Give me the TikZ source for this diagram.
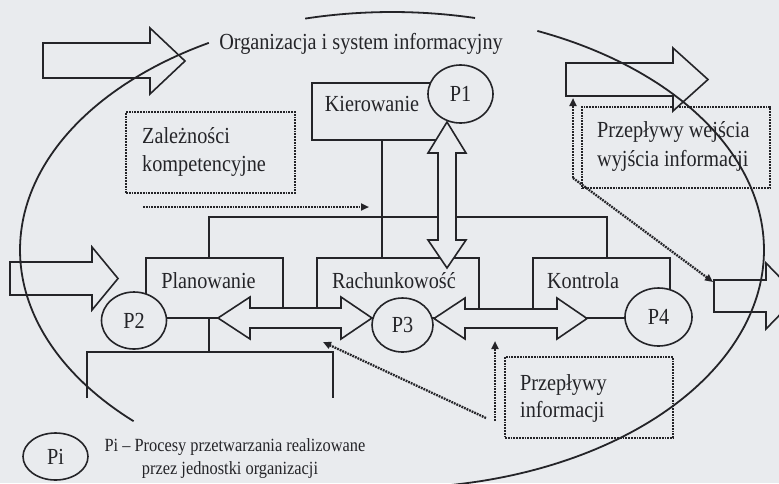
\documentclass[tikz,border=0pt]{standalone}
\usepackage{fontspec}
\setmainfont{Liberation Serif}
\newfontfamily\narrowserif{Liberation Serif}[FakeStretch=0.88]
\usetikzlibrary{arrows.meta,shapes.geometric,calc}

\definecolor{paper}{RGB}{233,235,238}
\definecolor{ink}{RGB}{36,36,40}

\tikzset{
  wire/.style={draw=ink, line width=1.6pt},
  unitbox/.style={rectangle, draw=ink, line width=1.6pt, inner sep=0pt},
  openbox/.style={rectangle, inner sep=0pt},
  proc/.style={ellipse, draw=ink, line width=1.6pt, fill=paper, inner sep=0pt,
               text=ink, font=\narrowserif\fontsize{23}{26}\selectfont},
  txt/.style={inner sep=0pt, text=ink, font=\narrowserif\fontsize{23}{26}\selectfont},
  smalltxt/.style={inner sep=0pt, text=ink, font=\narrowserif\fontsize{18.6}{21}\selectfont},
  notebox/.style={rectangle, draw=ink, line width=2.3pt, dash pattern=on 1.8pt off 1pt, inner sep=0pt},
  flow/.style={draw=ink, line width=2.3pt, dash pattern=on 1.8pt off 1pt,
               -{Triangle[length=8pt,width=7pt]}},
  blockarrow/.style={draw=ink, line width=1.6pt, fill=paper, line join=miter},
  orbit/.style={draw=ink, line width=1.8pt},
}

\begin{document}
\begin{tikzpicture}[x=1pt,y=-1pt]
  % canvas
  \fill[paper] (0,0) rectangle (779,483);
  \useasboundingbox (0,0) rectangle (779,483);
  \clip (0,0) rectangle (779,483);

  % ---- dotted notes ----
  \node[notebox, minimum width=169pt, minimum height=81pt] (zal) at (210.5,152.5) {};
  \node[txt, anchor=base west] (zal-t1) at (142,143) {Zależności};
  \node[txt, anchor=base west] (zal-t2) at (142,171) {kompetencyjne};

  \node[notebox, minimum width=188pt, minimum height=81pt] (wew) at (676,147.5) {};
  \node[txt, anchor=base west] (wew-t1) at (597,137) {Przepływy wejścia};
  \node[txt, anchor=base west] (wew-t2) at (597,166) {wyjścia informacji};

  \node[notebox, minimum width=168pt, minimum height=81pt] (inf) at (589,397.5) {};
  \node[txt, anchor=base west] (inf-t1) at (520,390) {Przepływy};
  \node[txt, anchor=base west] (inf-t2) at (520,417) {informacji};

  % ---- organisational units ----
  \node[openbox, minimum width=125pt, minimum height=57pt] (kier) at (374.5,111.5) {};
  \draw[wire] (kier.north east) -- (kier.north west) -- (kier.south west) -- (kier.south east);
  \node[txt, anchor=base] (kier-t) at (372,111) {Kierowanie};

  \node[unitbox, minimum width=137pt, minimum height=60pt] (plan) at (214.5,288) {};
  \node[unitbox, minimum width=162pt, minimum height=60pt] (rach) at (398,288) {};
  \node[unitbox, minimum width=137pt, minimum height=60pt] (kont) at (601.5,288) {};
  \node[txt, anchor=base] (plan-t) at (208.5,288) {Planowanie};
  \node[txt, anchor=base] (rach-t) at (394,288) {Rachunkowość};
  \node[txt, anchor=base] (kont-t) at (583,288) {Kontrola};

  % ---- hierarchy lines ----
  \coordinate (hub) at (382,217);
  \coordinate (pj) at (209,217);
  \coordinate (kj) at (607,217);
  \draw[wire] (kier.south -| hub) -- (rach.north -| hub);
  \draw[wire] (plan.north -| pj) -- (pj) -- (kj) -- (kont.north -| kj);

  \coordinate (sj) at (209,352);
  \coordinate (sl) at (87,352);
  \coordinate (sr) at (333,352);
  \coordinate (sl-end) at (87,398);
  \coordinate (sr-end) at (333,398);
  \draw[wire] (plan.south -| sj) -- (sj);
  \draw[wire] (sl-end) -- (sl) -- (sr) -- (sr-end);

  % ---- block arrows ----
  % inputs and outputs of the organisation
  \draw[blockarrow] (43,43) -- (150,43) -- (150,28) -- (185,61) -- (150,94) -- (150,78) -- (43,78) -- cycle;
  \draw[blockarrow] (10,262) -- (92,262) -- (92,247) -- (118,278.5) -- (92,310) -- (92,295) -- (10,295) -- cycle;
  \draw[blockarrow] (566,63) -- (673,63) -- (673,48) -- (708,79.5) -- (673,111) -- (673,96) -- (566,96) -- cycle;
  \draw[blockarrow] (714,280) -- (766,280) -- (766,263) -- (798,296) -- (766,329) -- (766,312) -- (714,312) -- cycle;
  % exchanges between the processes
  \draw[blockarrow] (447,122) -- (466,153) -- (456,153) -- (456,240) -- (466,240) -- (447,268)
                    -- (428,240) -- (438,240) -- (438,153) -- (428,153) -- cycle;
  \draw[blockarrow] (218,318) -- (250,297) -- (250,308) -- (341,308) -- (341,297) -- (372,318)
                    -- (341,339) -- (341,328) -- (250,328) -- (250,339) -- cycle;
  \draw[blockarrow] (434,318.5) -- (465,298) -- (465,309) -- (557,309) -- (557,298) -- (587,318.5)
                    -- (557,339) -- (557,328) -- (465,328) -- (465,339) -- cycle;

  % ---- processes ----
  \node[proc, minimum width=65pt, minimum height=58pt] (p1) at (460.5,94) {P1};
  \node[proc, minimum width=65pt, minimum height=57pt] (p2) at (134,320.5) {P2};
  \node[proc, minimum width=61pt, minimum height=54pt] (p3) at (402.5,325) {P3};
  \node[proc, minimum width=67pt, minimum height=58pt] (p4) at (658.5,317) {P4};

  % ---- dotted flows ----
  \coordinate (zf-s) at (143,207);
  \coordinate (zf-e) at (369,207);
  \draw[flow] (zf-s) -- (zf-e);

  \coordinate (wo) at (573,178);
  \coordinate (tr-foot) at (573,98);
  \coordinate (rt-foot) at (713,282);
  \draw[flow] (wo) -- (tr-foot);
  \draw[flow] (wo) -- (rt-foot);

  \coordinate (io1) at (495,421);
  \coordinate (io2) at (486,418);
  \coordinate (up-foot) at (495,341);
  \coordinate (left-foot) at (323,342);
  \draw[flow] (io1) -- (up-foot);
  \draw[flow] (io2) -- (left-foot);

  % ---- titles and legend ----
  \node[txt, anchor=base] (title) at (361,49) {Organizacja i system informacyjny};
  \node[proc, minimum width=65pt, minimum height=47pt] (pi) at (55.5,456.5) {Pi};
  \node[smalltxt, anchor=base] (leg1) at (235,451) {Pi – Procesy przetwarzania realizowane};
  \node[smalltxt, anchor=base] (leg2) at (230,474) {przez jednostki organizacji};

  % ---- boundary of the organisation ----
  \draw[orbit] plot[domain=240.5:134, samples=90] ({392+372*cos(\x)},{250+238*sin(\x)});
  \draw[orbit] plot[domain=256.5:282.9, samples=30] ({392+372*cos(\x)},{250+238*sin(\x)});
  \draw[orbit] plot[domain=293:448, samples=120] ({392+372*cos(\x)},{250+238*sin(\x)});
\end{tikzpicture}
\end{document}
